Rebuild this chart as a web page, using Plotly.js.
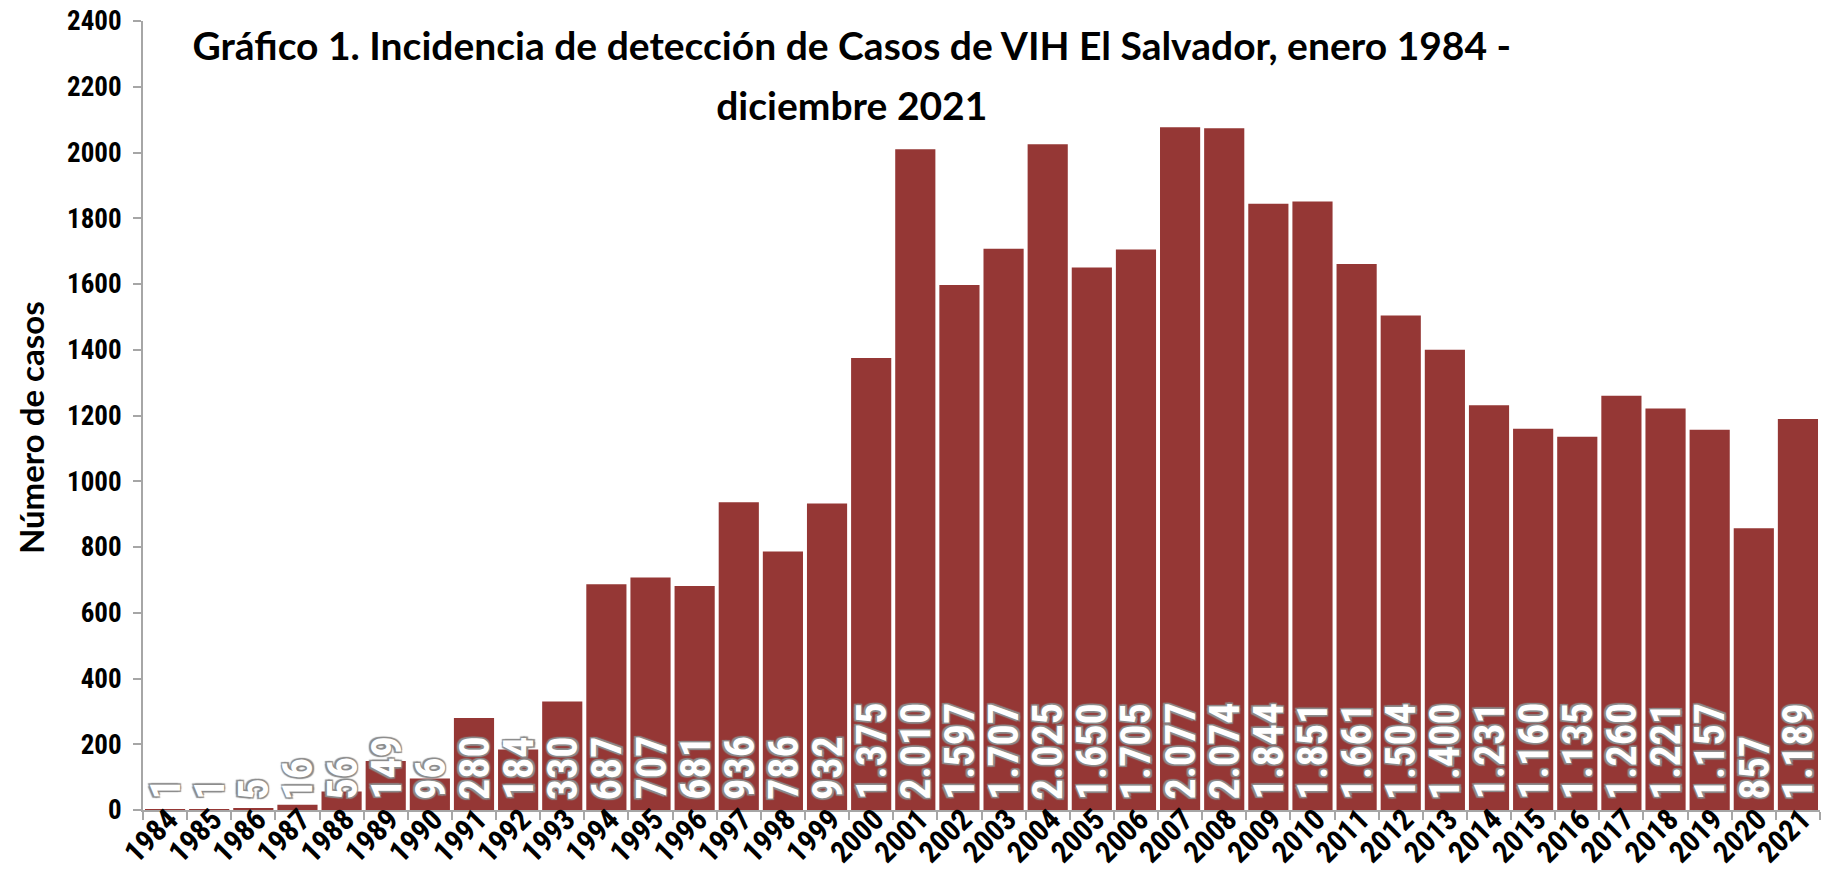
<!DOCTYPE html>
<html>
<head>
<meta charset="utf-8">
<script src="https://cdn.plot.ly/plotly-3.0.1.min.js"></script>
<style>html,body{margin:0;padding:0;background:#fff;}#chart{width:1824px;height:879px;}</style>
</head>
<body>
<div id="chart"></div>
<script>
var years = ["1984","1985","1986","1987","1988","1989","1990","1991","1992","1993","1994","1995","1996","1997","1998","1999","2000","2001","2002","2003","2004","2005","2006","2007","2008","2009","2010","2011","2012","2013","2014","2015","2016","2017","2018","2019","2020","2021"];
var cases = [1,1,5,16,56,149,96,280,184,330,687,707,681,936,786,932,1375,2010,1597,1707,2025,1650,1705,2077,2074,1844,1851,1661,1504,1400,1231,1160,1135,1260,1221,1157,857,1189];
var yTickValues = [0,200,400,600,800,1000,1200,1400,1600,1800,2000,2200,2400];

var titleLines = ["Gráfico 1. Incidencia de detección de Casos de VIH El Salvador, enero 1984 -", "diciembre 2021"];
var yTitleText = "Número de casos";

function fmt(v){
  return String(v).replace(/\B(?=(\d{3})+(?!\d))/g, ".");
}

var narrow = "Roboto Condensed, Liberation Sans Narrow, DejaVu Sans Condensed, sans-serif";
var outline = "-1.5px -1.5px 1px #8c8c8c, 1.5px -1.5px 1px #8c8c8c, -1.5px 1.5px 1px #8c8c8c, 1.5px 1.5px 1px #8c8c8c";

var annotations = years.map(function(y, i){
  return {
    x: i, y: 0, xref: 'x', yref: 'y',
    text: fmt(cases[i]),
    showarrow: false,
    textangle: -90,
    yanchor: 'bottom', xanchor: 'center',
    yshift: 8,
    font: {family: narrow, size: 42, color: '#ffffff', weight: 700, shadow: outline}
  };
});

annotations.push({
  x: 0, xref: 'paper', xanchor: 'center', xshift: -112,
  y: 0.484, yref: 'paper', yanchor: 'middle',
  text: yTitleText, textangle: -90, showarrow: false,
  font: {family: "Lato, Open Sans, sans-serif", size: 33, color: '#000000', weight: 700}
});

var trace = {
  type: 'bar',
  x: years,
  y: cases,
  marker: {color: '#953735'},
  hoverinfo: 'x+y'
};

var layout = {
  width: 1824, height: 879,
  paper_bgcolor: '#ffffff', plot_bgcolor: '#ffffff',
  margin: {l: 143, r: 4, t: 21, b: 69},
  bargap: 0.09,
  showlegend: false,
  title: {
    text: titleLines.map(function(s){ return '<span style="font-size:39px">' + s + '</span>'; }).join('<br>'),
    font: {family: "Lato, Open Sans, sans-serif", size: 46, color: '#000000', weight: 700},
    xref: 'container', yref: 'container',
    x: 0.467, xanchor: 'center',
    y: 0.932, yanchor: 'top'
  },
  xaxis: {
    type: 'category',
    range: [-0.5, 37.5],
    tickson: 'boundaries',
    ticks: 'outside', ticklen: 8, tickwidth: 1.5, tickcolor: '#a6a6a6',
    showline: true, linecolor: '#a6a6a6', linewidth: 2,
    tickangle: -45,
    ticklabelstandoff: -22,
    ticklabelshift: 4,
    tickfont: {family: narrow, size: 30, color: '#000000', weight: 700},
    showgrid: false
  },
  yaxis: {
    range: [0, 2400],
    tickvals: yTickValues,
    ticks: 'outside', ticklen: 8, tickwidth: 1.5, tickcolor: '#a6a6a6',
    showline: true, linecolor: '#a6a6a6', linewidth: 2,
    showgrid: false, zeroline: false,
    ticklabelstandoff: 6,
    tickfont: {family: narrow, size: 27, color: '#000000', weight: 700}
  },
  annotations: annotations
};

Plotly.newPlot('chart', [trace], layout, {displayModeBar: false, responsive: false});
</script>
</body>
</html>
